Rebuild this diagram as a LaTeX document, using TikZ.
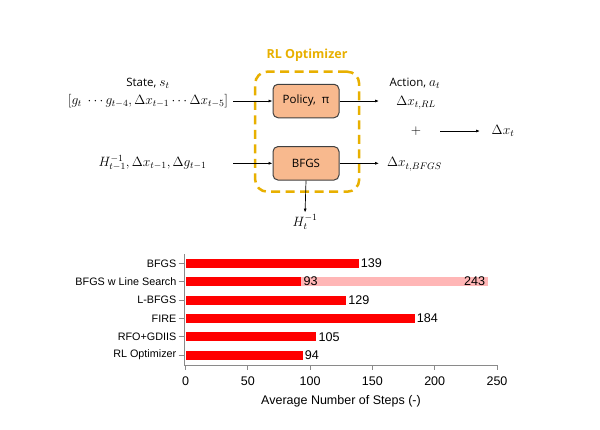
\documentclass[tikz,border=0pt]{standalone}
\usepackage{fix-cm}
\usepackage{fontspec}
\setmainfont{Open Sans}
\newfontfamily\arialf{Liberation Sans}
\usetikzlibrary{arrows.meta}
\definecolor{gold}{HTML}{E8B000}
\definecolor{peach}{HTML}{F8B98E}
\definecolor{boxedge}{HTML}{404040}
\definecolor{barred}{HTML}{FF0000}
\definecolor{barlight}{HTML}{FFB6B6}
\definecolor{axgray}{HTML}{8A8A8A}
\newcommand{\fs}[1]{\fontsize{#1}{#1}\selectfont}
\newcommand{\bm}[1]{{\fs{13.5}$#1$}}
\tikzset{
  procbox/.style={draw=boxedge, line width=1pt, fill=peach, rounded corners=5pt,
    minimum width=66pt, minimum height=33.5pt, inner sep=0pt, font=\fs{11.5}},
  optbox/.style={draw=gold, line width=2.5pt, dash pattern=on 9pt off 5.5pt,
    rounded corners=12pt, minimum width=104pt, minimum height=120pt, inner sep=0pt},
  arr/.style={-{Latex[length=4pt,width=3pt]}, line width=0.7pt},
  txt/.style={inner sep=0pt, font=\fs{11.5}},
  mtxt/.style={inner sep=0pt, font=\fs{13.5}},
  cat/.style={anchor=east, inner sep=0pt, font=\arialf\fs{10.8}},
  val/.style={anchor=west, inner sep=0pt, font=\arialf\fs{12.6}},
  tlab/.style={inner sep=0pt, font=\arialf\fs{12.5}},
  darkbar/.style={fill=barred},
  lightbar/.style={fill=barlight},
  axline/.style={draw=axgray, line width=0.8pt},
}
\begin{document}
\begin{tikzpicture}[x=1pt,y=-1pt]
\useasboundingbox (0,0) rectangle (600,429);
\fill[white] (0,0) rectangle (600,429);
% ---------- RL optimizer schematic ----------
\node[optbox] (opt) at (307.2,131.7) {};
\node[inner sep=0pt, text=gold, font=\bfseries\fs{12.5}] (opttitle) at (307,55) {RL Optimizer};
\node[procbox] (pol) at (306,101) {Policy,\enspace π};
\node[procbox] (bfgs) at (306,163.3) {BFGS};
\node[txt] (statelbl) at (148,83.5) {State, \bm{s_t}};
\node[mtxt] (statevec) at (148,101.5) {$[g_t\ \cdots g_{t-4}, \Delta x_{t-1} \cdots \Delta x_{t-5}]$};
\node[mtxt] (hin) at (152.5,163) {$H^{-1}_{t-1}, \Delta x_{t-1}, \Delta g_{t-1}$};
\coordinate (pin) at (233,101);
\coordinate (bin) at (233,163.3);
\coordinate (pout) at (379,101);
\coordinate (bout) at (379,163.3);
\draw[arr] (pin) -- (pol.west);
\draw[arr] (bin) -- (bfgs.west);
\draw[arr] (pol.east) -- (pout);
\draw[arr] (bfgs.east) -- (bout);
\node[txt, anchor=west] (actlbl) at (389.5,83.5) {Action, \bm{a_t}};
\node[mtxt] (dxrl) at (416,102.5) {$\Delta x_{t,RL}$};
\node[mtxt] (dxbfgs) at (414.5,164.3) {$\Delta x_{t,BFGS}$};
\node[mtxt] (plus) at (416,131) {$+$};
\node[mtxt] (dxt) at (503,131) {$\Delta x_t$};
\coordinate (sumstart) at (440,131);
\coordinate (sumend) at (480,131);
\draw[arr] (sumstart) -- (sumend);
\node[mtxt] (hnew) at (305,222) {$H^{-1}_t$};
\draw[arr, shorten >=2pt] (bfgs.south) -- (hnew.north);
% ---------- bar chart ----------
\def\xz{185.5}\def\sc{1.246}
\draw[axline] (184.5,254) -- (184.5,365) -- (497,365);
\foreach \v in {0,50,...,250}{
  \draw[axline] (\xz+\v*\sc,365) -- (\xz+\v*\sc,369.5);
  \node[tlab] at (\xz+\v*\sc,381) {\v};
}
\node[tlab] (xtitle) at (341,401) {Average Number of Steps (-)};
\foreach \i/\name/\v in {0/BFGS/139,1/BFGS w Line Search/93,2/L-BFGS/129,3/FIRE/184,4/RFO+GDIIS/105,5/RL Optimizer/94}{
  \pgfmathsetmacro{\yy}{263.3+\i*18.35}
  \draw[axline] (178.5,\yy) -- (184.5,\yy);
  \node[cat] (c\i) at (176.5,\yy) {\name};
}
\fill[lightbar] (\xz,281.65-4.5) rectangle (\xz+243*\sc,281.65+4.5);
\foreach \i/\v in {0/139,1/93,2/129,3/184,4/105,5/94}{
  \pgfmathsetmacro{\yy}{263.3+\i*18.35}
  \fill[darkbar] (\xz,\yy-4.5) rectangle (\xz+\v*\sc,\yy+4.5);
  \node[val] (v\i) at (\xz+\v*\sc+2,\yy) {\v};
}
\node[val, anchor=east] (v243) at (\xz+243*\sc-3,281.65) {243};
\end{tikzpicture}
\end{document}
